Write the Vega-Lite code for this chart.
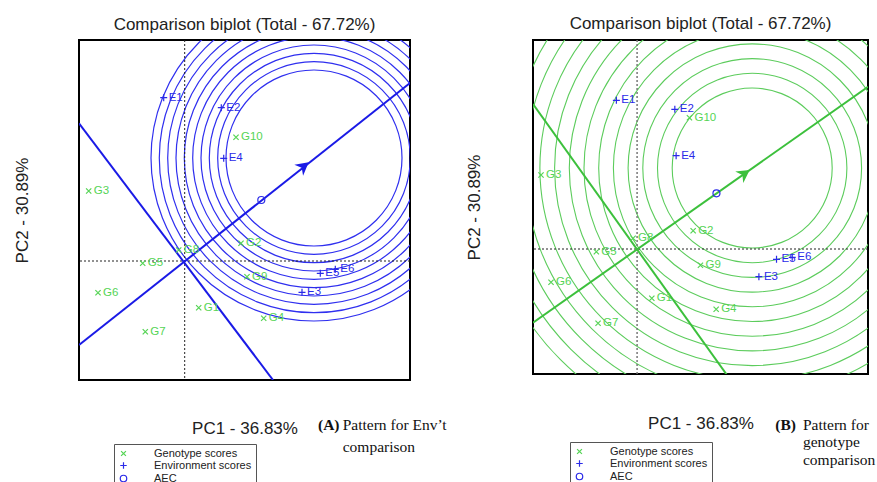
{
  "$schema": "https://vega.github.io/schema/vega-lite/v6.json",
  "autosize": {"type": "pad"},
  "padding": {"left": 12, "top": 14, "right": 0, "bottom": 0},
  "bounds": "flush",
  "spacing": 123,
  "background": "white",
  "config": {
    "view": {"stroke": "black", "strokeWidth": 2},
    "font": "Liberation Sans",
    "axis": {"labels": false, "ticks": false, "domain": false, "grid": false, "titleFont": "Liberation Sans", "titleFontSize": 17, "titleFontWeight": "normal", "titleColor": "#222"},
    "title": {"font": "Liberation Sans", "fontSize": 17, "fontWeight": "normal", "color": "#222"}
  },
  "resolve": {"scale": {"stroke": "independent", "shape": "independent"}, "legend": {"stroke": "independent", "shape": "independent"}},
  "datasets": {
    "one": [{"k": 0}],
    "ptsA": [
      {"label": "E1", "kind": "Environment scores", "x": -0.21, "y": 1.633},
      {"label": "E2", "kind": "Environment scores", "x": 0.366, "y": 1.533},
      {"label": "E3", "kind": "Environment scores", "x": 1.173, "y": -0.313},
      {"label": "E4", "kind": "Environment scores", "x": 0.39, "y": 1.027},
      {"label": "E5", "kind": "Environment scores", "x": 1.356, "y": -0.123},
      {"label": "E6", "kind": "Environment scores", "x": 1.506, "y": -0.083},
      {"label": "G1", "kind": "Genotype scores", "x": 0.14, "y": -0.467},
      {"label": "G2", "kind": "Genotype scores", "x": 0.563, "y": 0.177},
      {"label": "G3", "kind": "Genotype scores", "x": -0.96, "y": 0.7},
      {"label": "G4", "kind": "Genotype scores", "x": 0.79, "y": -0.573},
      {"label": "G5", "kind": "Genotype scores", "x": -0.42, "y": -0.023},
      {"label": "G6", "kind": "Genotype scores", "x": -0.867, "y": -0.317},
      {"label": "G7", "kind": "Genotype scores", "x": -0.394, "y": -0.707},
      {"label": "G8", "kind": "Genotype scores", "x": -0.06, "y": 0.11},
      {"label": "G9", "kind": "Genotype scores", "x": 0.623, "y": -0.157},
      {"label": "G10", "kind": "Genotype scores", "x": 0.513, "y": 1.237},
      {"label": "", "kind": "AEC", "x": 0.766, "y": 0.61}
    ],
    "ptsB": [
      {"label": "E1", "kind": "Environment scores", "x": -0.207, "y": 1.487},
      {"label": "E2", "kind": "Environment scores", "x": 0.377, "y": 1.397},
      {"label": "E3", "kind": "Environment scores", "x": 1.217, "y": -0.277},
      {"label": "E4", "kind": "Environment scores", "x": 0.39, "y": 0.933},
      {"label": "E5", "kind": "Environment scores", "x": 1.393, "y": -0.103},
      {"label": "E6", "kind": "Environment scores", "x": 1.55, "y": -0.083},
      {"label": "G1", "kind": "Genotype scores", "x": 0.147, "y": -0.493},
      {"label": "G2", "kind": "Genotype scores", "x": 0.56, "y": 0.183},
      {"label": "G3", "kind": "Genotype scores", "x": -0.96, "y": 0.74},
      {"label": "G4", "kind": "Genotype scores", "x": 0.79, "y": -0.603},
      {"label": "G5", "kind": "Genotype scores", "x": -0.407, "y": -0.027},
      {"label": "G6", "kind": "Genotype scores", "x": -0.86, "y": -0.333},
      {"label": "G7", "kind": "Genotype scores", "x": -0.39, "y": -0.743},
      {"label": "G8", "kind": "Genotype scores", "x": -0.04, "y": 0.107},
      {"label": "G9", "kind": "Genotype scores", "x": 0.633, "y": -0.163},
      {"label": "G10", "kind": "Genotype scores", "x": 0.523, "y": 1.313},
      {"label": "", "kind": "AEC", "x": 0.793, "y": 0.557}
    ],
    "circA": [
      {"x": 1.293, "y": 1.03, "r": 0.88},
      {"x": 1.293, "y": 1.03, "r": 0.963},
      {"x": 1.293, "y": 1.03, "r": 1.047},
      {"x": 1.293, "y": 1.03, "r": 1.13},
      {"x": 1.293, "y": 1.03, "r": 1.213},
      {"x": 1.293, "y": 1.03, "r": 1.297},
      {"x": 1.293, "y": 1.03, "r": 1.38},
      {"x": 1.293, "y": 1.03, "r": 1.463},
      {"x": 1.293, "y": 1.03, "r": 1.547},
      {"x": 1.293, "y": 1.03, "r": 1.63}
    ],
    "circB": [
      {"x": 1.15, "y": 0.81, "r": 0.8},
      {"x": 1.15, "y": 0.81, "r": 0.947},
      {"x": 1.15, "y": 0.81, "r": 1.094},
      {"x": 1.15, "y": 0.81, "r": 1.241},
      {"x": 1.15, "y": 0.81, "r": 1.388},
      {"x": 1.15, "y": 0.81, "r": 1.535},
      {"x": 1.15, "y": 0.81, "r": 1.682},
      {"x": 1.15, "y": 0.81, "r": 1.829},
      {"x": 1.15, "y": 0.81, "r": 1.976},
      {"x": 1.15, "y": 0.81, "r": 2.123},
      {"x": 1.15, "y": 0.81, "r": 2.27},
      {"x": 1.15, "y": 0.81, "r": 2.417},
      {"x": 1.15, "y": 0.81, "r": 2.564},
      {"x": 1.15, "y": 0.81, "r": 2.711}
    ],
    "segA": [
      {"seg": "aec", "x": -1.057, "y": -0.84},
      {"seg": "aec", "x": 2.253, "y": 1.78},
      {"seg": "perp", "x": -1.057, "y": 1.377},
      {"seg": "perp", "x": 0.883, "y": -1.19}
    ],
    "segB": [
      {"seg": "aec", "x": -1.04, "y": -0.737},
      {"seg": "aec", "x": 2.307, "y": 1.623},
      {"seg": "perp", "x": -1.04, "y": 1.45},
      {"seg": "perp", "x": 0.893, "y": -1.253}
    ],
    "arrowA": [{"x": 1.24, "y": 0.987}],
    "arrowB": [{"x": 1.125, "y": 0.79}],
    "capA": [
      {"t": "Pattern for Env’t", "x": 1.58, "y": -1.64},
      {"t": "comparison", "x": 1.58, "y": -1.857}
    ],
    "capAb": [{"t": "(A)", "x": 1.333, "y": -1.64}],
    "capB": [
      {"t": "Pattern for", "x": 1.657, "y": -1.76},
      {"t": "genotype", "x": 1.657, "y": -1.927},
      {"t": "comparison", "x": 1.657, "y": -2.11}
    ],
    "capBb": [{"t": "(B)", "x": 1.38, "y": -1.76}]
  },
  "hconcat": [
    {
      "width": 331,
      "height": 340,
      "title": {"text": "Comparison biplot (Total - 67.72%)", "offset": 6},
      "layer": [
        {
          "data": {"name": "circA"},
          "mark": {"type": "point", "shape": "circle", "filled": false, "clip": true, "stroke": "#2f2fef", "strokeWidth": 1.2, "opacity": 1},
          "encoding": {
            "x": {"field": "x", "type": "quantitative", "scale": {"domain": [-1.057, 2.253], "nice": false, "zero": false}, "axis": {"title": "PC1 - 36.83%", "titlePadding": 40}},
            "y": {"field": "y", "type": "quantitative", "scale": {"domain": [-1.19, 2.21], "nice": false, "zero": false}, "axis": {"title": "PC2 - 30.89%", "titlePadding": 47.5}},
            "size": {"field": "r", "type": "quantitative", "scale": {"type": "pow", "exponent": 2, "domain": [0, 1], "range": [0, 40000]}, "legend": null}
          }
        },
        {
          "data": {"name": "one"},
          "mark": {"type": "rule", "strokeDash": [2, 2], "color": "#222", "strokeWidth": 1},
          "encoding": {"x": {"datum": 0, "type": "quantitative", "scale": {"domain": [-1.057, 2.253], "nice": false, "zero": false}, "axis": {"title": "PC1 - 36.83%", "titlePadding": 40}}}
        },
        {
          "data": {"name": "one"},
          "mark": {"type": "rule", "strokeDash": [2, 2], "color": "#222", "strokeWidth": 1},
          "encoding": {"y": {"datum": 0, "type": "quantitative", "scale": {"domain": [-1.19, 2.21], "nice": false, "zero": false}, "axis": {"title": "PC2 - 30.89%", "titlePadding": 47.5}}}
        },
        {
          "data": {"name": "segA"},
          "mark": {"type": "line", "clip": true, "color": "#1a1ae6", "strokeWidth": 2},
          "encoding": {
            "x": {"field": "x", "type": "quantitative", "scale": {"domain": [-1.057, 2.253], "nice": false, "zero": false}, "axis": {"title": "PC1 - 36.83%", "titlePadding": 40}},
            "y": {"field": "y", "type": "quantitative", "scale": {"domain": [-1.19, 2.21], "nice": false, "zero": false}, "axis": {"title": "PC2 - 30.89%", "titlePadding": 47.5}},
            "detail": {"field": "seg"}
          }
        },
        {
          "data": {"name": "arrowA"},
          "mark": {"type": "point", "shape": "M0,0L-1,-0.55L-0.7,0L-1,0.55Z", "filled": true, "color": "#1a1ae6", "size": 650, "angle": -38.5, "opacity": 1},
          "encoding": {
            "x": {"field": "x", "type": "quantitative", "scale": {"domain": [-1.057, 2.253], "nice": false, "zero": false}, "axis": {"title": "PC1 - 36.83%", "titlePadding": 40}},
            "y": {"field": "y", "type": "quantitative", "scale": {"domain": [-1.19, 2.21], "nice": false, "zero": false}, "axis": {"title": "PC2 - 30.89%", "titlePadding": 47.5}}
          }
        },
        {
          "data": {"name": "ptsA"},
          "mark": {"type": "point", "filled": false, "opacity": 1, "size": 49, "strokeWidth": 1.2},
          "encoding": {
            "x": {"field": "x", "type": "quantitative", "scale": {"domain": [-1.057, 2.253], "nice": false, "zero": false}, "axis": {"title": "PC1 - 36.83%", "titlePadding": 40}},
            "y": {"field": "y", "type": "quantitative", "scale": {"domain": [-1.19, 2.21], "nice": false, "zero": false}, "axis": {"title": "PC2 - 30.89%", "titlePadding": 47.5}},
            "stroke": {"field": "kind", "type": "nominal", "scale": {"domain": ["Genotype scores", "Environment scores", "AEC"], "range": ["#55d455", "#2a2ae8", "#2a2ae8"]}, "legend": {"orient": "none", "legendX": 35, "legendY": 404, "title": null, "strokeColor": "#555", "fillColor": "white", "padding": 4, "labelFont": "Liberation Sans", "labelFontSize": 11, "labelColor": "#222", "labelOffset": 25, "symbolSize": 42, "symbolStrokeWidth": 1.2, "symbolFillColor": "transparent", "rowPadding": 0}},
            "shape": {"field": "kind", "type": "nominal", "scale": {"domain": ["Genotype scores", "Environment scores", "AEC"], "range": ["M-0.75,-0.75L0.75,0.75M-0.75,0.75L0.75,-0.75", "M-1,0L1,0M0,-1L0,1", "circle"]}, "legend": {"orient": "none", "legendX": 35, "legendY": 404, "title": null, "strokeColor": "#555", "fillColor": "white", "padding": 4, "labelFont": "Liberation Sans", "labelFontSize": 11, "labelColor": "#222", "labelOffset": 25, "symbolSize": 42, "symbolStrokeWidth": 1.2, "symbolFillColor": "transparent", "rowPadding": 0}}
          }
        },
        {
          "data": {"name": "ptsA"},
          "transform": [{"filter": "datum.kind === 'Genotype scores'"}],
          "mark": {"type": "text", "align": "left", "baseline": "middle", "dx": 5, "fontSize": 11.5, "font": "Liberation Sans", "color": "#55d455"},
          "encoding": {
            "x": {"field": "x", "type": "quantitative", "scale": {"domain": [-1.057, 2.253], "nice": false, "zero": false}, "axis": {"title": "PC1 - 36.83%", "titlePadding": 40}},
            "y": {"field": "y", "type": "quantitative", "scale": {"domain": [-1.19, 2.21], "nice": false, "zero": false}, "axis": {"title": "PC2 - 30.89%", "titlePadding": 47.5}},
            "text": {"field": "label"}
          }
        },
        {
          "data": {"name": "ptsA"},
          "transform": [{"filter": "datum.kind === 'Environment scores'"}],
          "mark": {"type": "text", "align": "left", "baseline": "middle", "dx": 5, "fontSize": 11.5, "font": "Liberation Sans", "color": "#2a2ae8"},
          "encoding": {
            "x": {"field": "x", "type": "quantitative", "scale": {"domain": [-1.057, 2.253], "nice": false, "zero": false}, "axis": {"title": "PC1 - 36.83%", "titlePadding": 40}},
            "y": {"field": "y", "type": "quantitative", "scale": {"domain": [-1.19, 2.21], "nice": false, "zero": false}, "axis": {"title": "PC2 - 30.89%", "titlePadding": 47.5}},
            "text": {"field": "label"}
          }
        },
        {
          "data": {"name": "capA"},
          "mark": {"type": "text", "align": "left", "baseline": "middle", "font": "Liberation Serif", "fontSize": 15.5, "color": "#111"},
          "encoding": {
            "x": {"field": "x", "type": "quantitative", "scale": {"domain": [-1.057, 2.253], "nice": false, "zero": false}, "axis": {"title": "PC1 - 36.83%", "titlePadding": 40}},
            "y": {"field": "y", "type": "quantitative", "scale": {"domain": [-1.19, 2.21], "nice": false, "zero": false}, "axis": {"title": "PC2 - 30.89%", "titlePadding": 47.5}},
            "text": {"field": "t"}
          }
        },
        {
          "data": {"name": "capAb"},
          "mark": {"type": "text", "align": "left", "baseline": "middle", "font": "Liberation Serif", "fontSize": 15.5, "fontWeight": "bold", "color": "#111"},
          "encoding": {
            "x": {"field": "x", "type": "quantitative", "scale": {"domain": [-1.057, 2.253], "nice": false, "zero": false}, "axis": {"title": "PC1 - 36.83%", "titlePadding": 40}},
            "y": {"field": "y", "type": "quantitative", "scale": {"domain": [-1.19, 2.21], "nice": false, "zero": false}, "axis": {"title": "PC2 - 30.89%", "titlePadding": 47.5}},
            "text": {"field": "t"}
          }
        }
      ]
    },
    {
      "width": 335,
      "height": 334,
      "title": {"text": "Comparison biplot (Total - 67.72%)", "offset": 6},
      "layer": [
        {
          "data": {"name": "circB"},
          "mark": {"type": "point", "shape": "circle", "filled": false, "clip": true, "stroke": "#5ccc5c", "strokeWidth": 1.1, "opacity": 1},
          "encoding": {
            "x": {"field": "x", "type": "quantitative", "scale": {"domain": [-1.04, 2.307], "nice": false, "zero": false}, "axis": {"title": "PC1 - 36.83%", "titlePadding": 41.5}},
            "y": {"field": "y", "type": "quantitative", "scale": {"domain": [-1.25, 2.09], "nice": false, "zero": false}, "axis": {"title": "PC2 - 30.89%", "titlePadding": 49.5}},
            "size": {"field": "r", "type": "quantitative", "scale": {"type": "pow", "exponent": 2, "domain": [0, 1], "range": [0, 40000]}, "legend": null}
          }
        },
        {
          "data": {"name": "one"},
          "mark": {"type": "rule", "strokeDash": [2, 2], "color": "#777", "strokeWidth": 1.5},
          "encoding": {"x": {"datum": 0, "type": "quantitative", "scale": {"domain": [-1.04, 2.307], "nice": false, "zero": false}, "axis": {"title": "PC1 - 36.83%", "titlePadding": 41.5}}}
        },
        {
          "data": {"name": "one"},
          "mark": {"type": "rule", "strokeDash": [2, 2], "color": "#222", "strokeWidth": 1},
          "encoding": {"y": {"datum": 0, "type": "quantitative", "scale": {"domain": [-1.25, 2.09], "nice": false, "zero": false}, "axis": {"title": "PC2 - 30.89%", "titlePadding": 49.5}}}
        },
        {
          "data": {"name": "segB"},
          "mark": {"type": "line", "clip": true, "color": "#3cc03c", "strokeWidth": 2},
          "encoding": {
            "x": {"field": "x", "type": "quantitative", "scale": {"domain": [-1.04, 2.307], "nice": false, "zero": false}, "axis": {"title": "PC1 - 36.83%", "titlePadding": 41.5}},
            "y": {"field": "y", "type": "quantitative", "scale": {"domain": [-1.25, 2.09], "nice": false, "zero": false}, "axis": {"title": "PC2 - 30.89%", "titlePadding": 49.5}},
            "detail": {"field": "seg"}
          }
        },
        {
          "data": {"name": "arrowB"},
          "mark": {"type": "point", "shape": "M0,0L-1,-0.55L-0.7,0L-1,0.55Z", "filled": true, "color": "#3cc03c", "size": 650, "angle": -35, "opacity": 1},
          "encoding": {
            "x": {"field": "x", "type": "quantitative", "scale": {"domain": [-1.04, 2.307], "nice": false, "zero": false}, "axis": {"title": "PC1 - 36.83%", "titlePadding": 41.5}},
            "y": {"field": "y", "type": "quantitative", "scale": {"domain": [-1.25, 2.09], "nice": false, "zero": false}, "axis": {"title": "PC2 - 30.89%", "titlePadding": 49.5}}
          }
        },
        {
          "data": {"name": "ptsB"},
          "mark": {"type": "point", "filled": false, "opacity": 1, "size": 49, "strokeWidth": 1.2},
          "encoding": {
            "x": {"field": "x", "type": "quantitative", "scale": {"domain": [-1.04, 2.307], "nice": false, "zero": false}, "axis": {"title": "PC1 - 36.83%", "titlePadding": 41.5}},
            "y": {"field": "y", "type": "quantitative", "scale": {"domain": [-1.25, 2.09], "nice": false, "zero": false}, "axis": {"title": "PC2 - 30.89%", "titlePadding": 49.5}},
            "stroke": {"field": "kind", "type": "nominal", "scale": {"domain": ["Genotype scores", "Environment scores", "AEC"], "range": ["#55d455", "#2a2ae8", "#2a2ae8"]}, "legend": {"orient": "none", "legendX": 37, "legendY": 402, "title": null, "strokeColor": "#555", "fillColor": "white", "padding": 4, "labelFont": "Liberation Sans", "labelFontSize": 11, "labelColor": "#222", "labelOffset": 25, "symbolSize": 42, "symbolStrokeWidth": 1.2, "symbolFillColor": "transparent", "rowPadding": 0}},
            "shape": {"field": "kind", "type": "nominal", "scale": {"domain": ["Genotype scores", "Environment scores", "AEC"], "range": ["M-0.75,-0.75L0.75,0.75M-0.75,0.75L0.75,-0.75", "M-1,0L1,0M0,-1L0,1", "circle"]}, "legend": {"orient": "none", "legendX": 37, "legendY": 402, "title": null, "strokeColor": "#555", "fillColor": "white", "padding": 4, "labelFont": "Liberation Sans", "labelFontSize": 11, "labelColor": "#222", "labelOffset": 25, "symbolSize": 42, "symbolStrokeWidth": 1.2, "symbolFillColor": "transparent", "rowPadding": 0}}
          }
        },
        {
          "data": {"name": "ptsB"},
          "transform": [{"filter": "datum.kind === 'Genotype scores'"}],
          "mark": {"type": "text", "align": "left", "baseline": "middle", "dx": 5, "fontSize": 11.5, "font": "Liberation Sans", "color": "#55d455"},
          "encoding": {
            "x": {"field": "x", "type": "quantitative", "scale": {"domain": [-1.04, 2.307], "nice": false, "zero": false}, "axis": {"title": "PC1 - 36.83%", "titlePadding": 41.5}},
            "y": {"field": "y", "type": "quantitative", "scale": {"domain": [-1.25, 2.09], "nice": false, "zero": false}, "axis": {"title": "PC2 - 30.89%", "titlePadding": 49.5}},
            "text": {"field": "label"}
          }
        },
        {
          "data": {"name": "ptsB"},
          "transform": [{"filter": "datum.kind === 'Environment scores'"}],
          "mark": {"type": "text", "align": "left", "baseline": "middle", "dx": 5, "fontSize": 11.5, "font": "Liberation Sans", "color": "#2a2ae8"},
          "encoding": {
            "x": {"field": "x", "type": "quantitative", "scale": {"domain": [-1.04, 2.307], "nice": false, "zero": false}, "axis": {"title": "PC1 - 36.83%", "titlePadding": 41.5}},
            "y": {"field": "y", "type": "quantitative", "scale": {"domain": [-1.25, 2.09], "nice": false, "zero": false}, "axis": {"title": "PC2 - 30.89%", "titlePadding": 49.5}},
            "text": {"field": "label"}
          }
        },
        {
          "data": {"name": "capB"},
          "mark": {"type": "text", "align": "left", "baseline": "middle", "font": "Liberation Serif", "fontSize": 15.5, "color": "#111"},
          "encoding": {
            "x": {"field": "x", "type": "quantitative", "scale": {"domain": [-1.04, 2.307], "nice": false, "zero": false}, "axis": {"title": "PC1 - 36.83%", "titlePadding": 41.5}},
            "y": {"field": "y", "type": "quantitative", "scale": {"domain": [-1.25, 2.09], "nice": false, "zero": false}, "axis": {"title": "PC2 - 30.89%", "titlePadding": 49.5}},
            "text": {"field": "t"}
          }
        },
        {
          "data": {"name": "capBb"},
          "mark": {"type": "text", "align": "left", "baseline": "middle", "font": "Liberation Serif", "fontSize": 15.5, "fontWeight": "bold", "color": "#111"},
          "encoding": {
            "x": {"field": "x", "type": "quantitative", "scale": {"domain": [-1.04, 2.307], "nice": false, "zero": false}, "axis": {"title": "PC1 - 36.83%", "titlePadding": 41.5}},
            "y": {"field": "y", "type": "quantitative", "scale": {"domain": [-1.25, 2.09], "nice": false, "zero": false}, "axis": {"title": "PC2 - 30.89%", "titlePadding": 49.5}},
            "text": {"field": "t"}
          }
        }
      ]
    }
  ]
}
